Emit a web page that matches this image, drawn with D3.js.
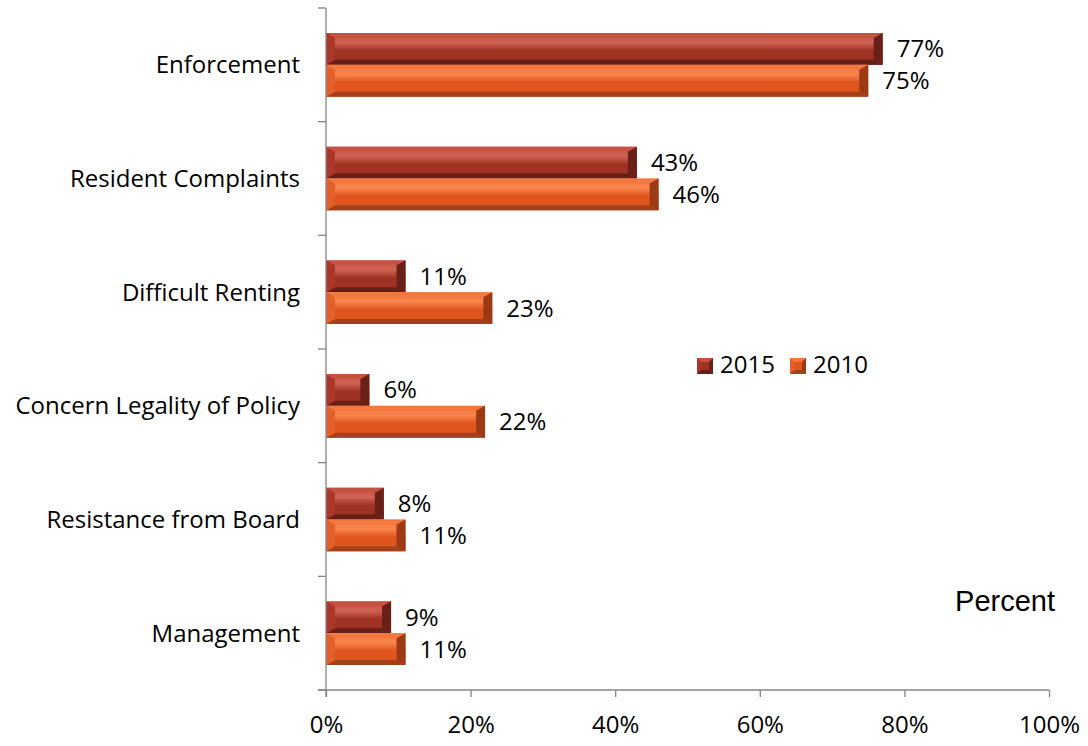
<!DOCTYPE html>
<html><head><meta charset="utf-8">
<script src="https://cdn.jsdelivr.net/npm/d3@7"></script>
<style>body{margin:0;background:#fff}svg{display:block}</style>
</head><body><svg id="c" width="1088" height="746"></svg>
<script>
const categories = ["Enforcement","Resident Complaints","Difficult Renting","Concern Legality of Policy","Resistance from Board","Management"];
const series2015 = [77,43,11,6,8,9];
const series2010 = [75,46,23,22,11,11];
const seriesNames = ["2015","2010"];
const xTicks = [0,20,40,60,80,100];

const FS = 24;
const FONT = "'Open Sans',Lato,sans-serif";
const svg = d3.select("#c").style("font-family",FONT);
const x = d3.scaleLinear().domain([0,100]).range([326,1049]);
const y = d3.scaleBand().domain(categories).range([8,690]).paddingInner(0.44).paddingOuter(0.22);
const y2 = d3.scaleBand().domain(seriesNames).range([0,y.bandwidth()]);

const palettes = {
  "2015": {main:"#a03224", top:"#c4503f", bottom:"#661f17", left:"#aa3729", right:"#6a2017", hi:"#d06454"},
  "2010": {main:"#e0541e", top:"#f2773e", bottom:"#a4401a", left:"#e4602a", right:"#9c3a14", hi:"#f9864e"}
};
const defs = svg.append("defs");
Object.entries(palettes).forEach(([k,p])=>{
  const g = defs.append("linearGradient").attr("id","g"+k).attr("x1",0).attr("y1",0).attr("x2",0).attr("y2",1);
  g.append("stop").attr("offset","0%").attr("stop-color",p.top);
  g.append("stop").attr("offset","30%").attr("stop-color",p.hi);
  g.append("stop").attr("offset","55%").attr("stop-color",p.main);
  g.append("stop").attr("offset","100%").attr("stop-color",p.main);
});

function bevelBar(g, x0, y0, w, h, key){
  const p = palettes[key];
  const b = Math.min(9, w/2), bv = 5;
  g.append("rect").attr("x",x0).attr("y",y0).attr("width",w).attr("height",h).attr("fill","url(#g"+key+")");
  g.append("polygon").attr("points",[[x0,y0],[x0+w,y0],[x0+w-b,y0+bv],[x0+b,y0+bv]].join(" ")).attr("fill",p.top).attr("opacity",0.6);
  g.append("polygon").attr("points",[[x0,y0+h],[x0+w,y0+h],[x0+w-b,y0+h-bv],[x0+b,y0+h-bv]].join(" ")).attr("fill",p.bottom);
  g.append("polygon").attr("points",[[x0,y0],[x0+b,y0+bv],[x0+b,y0+h-bv],[x0,y0+h]].join(" ")).attr("fill",p.left);
  g.append("polygon").attr("points",[[x0+w,y0],[x0+w-b,y0+bv],[x0+w-b,y0+h-bv],[x0+w,y0+h]].join(" ")).attr("fill",p.right);
}

const data = [];
categories.forEach((c,i)=>{
  data.push({cat:c, s:"2015", v:series2015[i]});
  data.push({cat:c, s:"2010", v:series2010[i]});
});

const barsG = svg.append("g");
data.forEach(d=>{
  const g = barsG.append("g");
  const y0 = y(d.cat)+y2(d.s);
  bevelBar(g, x(0), y0, x(d.v)-x(0), y2.bandwidth(), d.s);
  svg.append("text").attr("x", x(d.v)+14).attr("y", y0+y2.bandwidth()/2+2)
    .attr("dominant-baseline","middle").attr("font-size",FS).attr("fill","#000").text(d.v+"%");
});

const axisColor = "#868686";
const xAxis = svg.append("g").attr("transform","translate(0,690)")
  .call(d3.axisBottom(x).tickValues(xTicks).tickFormat(d=>d+"%").tickSize(7).tickPadding(19));
xAxis.select(".domain").attr("stroke",axisColor).attr("stroke-width",1.3).attr("d","M318,0H1049");
xAxis.selectAll(".tick line").attr("stroke",axisColor).attr("stroke-width",1.3);
xAxis.selectAll("text").attr("font-size",FS).attr("fill","#000").style("font-family",FONT);

const yEdges = d3.range(categories.length+1).map(i=>8+i*(682/categories.length));
const yg = svg.append("g");
yg.append("line").attr("x1",326).attr("x2",326).attr("y1",8).attr("y2",697).attr("stroke",axisColor).attr("stroke-width",1.3);
yEdges.forEach(e=>yg.append("line").attr("x1",318).attr("x2",326).attr("y1",e).attr("y2",e).attr("stroke",axisColor).attr("stroke-width",1.3));
categories.forEach(c=>{
  svg.append("text").attr("x",300).attr("y",y(c)+y.bandwidth()/2+2).attr("text-anchor","end")
    .attr("dominant-baseline","middle").attr("font-size",FS).attr("fill","#000").text(c);
});

const leg = svg.append("g");
[["2015",697],["2010",790]].forEach(([k,lx])=>{
  const p = palettes[k];
  const s=16, ly=358;
  leg.append("rect").attr("x",lx).attr("y",ly).attr("width",s).attr("height",s).attr("fill",p.main);
  leg.append("polygon").attr("points",[[lx,ly],[lx+s,ly],[lx+s-4,ly+4],[lx+4,ly+4]].join(" ")).attr("fill",p.top);
  leg.append("polygon").attr("points",[[lx,ly+s],[lx+s,ly+s],[lx+s-4,ly+s-4],[lx+4,ly+s-4]].join(" ")).attr("fill",p.bottom);
  leg.append("polygon").attr("points",[[lx+s,ly],[lx+s,ly+s],[lx+s-4,ly+s-4],[lx+s-4,ly+4]].join(" ")).attr("fill",p.right);
  leg.append("polygon").attr("points",[[lx,ly],[lx,ly+s],[lx+4,ly+s-4],[lx+4,ly+4]].join(" ")).attr("fill",p.left);
  leg.append("text").attr("x",lx+23).attr("y",ly+s/2+1).attr("dominant-baseline","middle").attr("font-size",FS).attr("fill","#000").text(k);
});

svg.append("text").attr("x",1055).attr("y",603).attr("text-anchor","end").attr("dominant-baseline","middle")
  .style("font-family","'Liberation Sans',Arial,sans-serif").attr("font-size",29).attr("fill","#000").text("Percent");
</script></body></html>
